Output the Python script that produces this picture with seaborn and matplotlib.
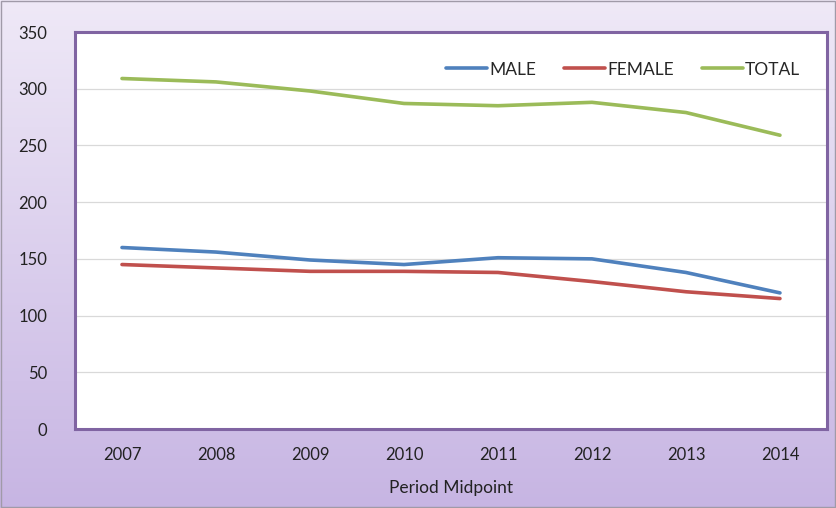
import numpy as np
import pandas as pd
import matplotlib
matplotlib.use("Agg")
import matplotlib.pyplot as plt
import seaborn as sns
from matplotlib.colors import LinearSegmentedColormap

years = [2007, 2008, 2009, 2010, 2011, 2012, 2013, 2014]
male = [160, 156, 149, 145, 151, 150, 138, 120]
female = [145, 142, 139, 139, 138, 130, 121, 115]
total = [309, 306, 298, 287, 285, 288, 279, 259]
series_names = ["MALE", "FEMALE", "TOTAL"]
colors = ["#4f81bd", "#c0504d", "#9bbb59"]

df = pd.DataFrame({"year": years * 3,
                   "value": male + female + total,
                   "series": [s for s in series_names for _ in years]})

sns.set_theme(style="white")
plt.rcParams['font.family'] = ['Lato', 'DejaVu Sans']

fig = plt.figure(figsize=(8.37, 5.08), dpi=100)

# gradient background, light at the top, darker lavender at the bottom
bg = fig.add_axes([0, 0, 1, 1], zorder=-10)
cmap = LinearSegmentedColormap.from_list("bg", ["#c7b5e3", "#efe9f7"])
bg.imshow(np.linspace(0, 1, 256).reshape(-1, 1), aspect="auto", cmap=cmap,
          extent=[0, 1, 0, 1])
bg.set_xlim(0, 1)
bg.set_ylim(1, 0)
bg.axis("off")
fig.patches.append(plt.Rectangle((0.001, 0.001), 0.997, 0.997, transform=fig.transFigure,
                                 fill=False, edgecolor="#a09aa8", linewidth=1))

ax = fig.add_axes([0.0896, 0.1555, 0.8984, 0.7815])
ax.set_facecolor("white")
sns.lineplot(data=df, x="year", y="value", hue="series", palette=colors,
             hue_order=series_names, linewidth=2.6, ax=ax)

ax.set_ylim(0, 350)
ax.set_yticks(range(0, 351, 50))
ax.set_xlim(2006.5, 2014.5)
ax.set_xticks(years)
ax.set_xticklabels([str(y) for y in years])
ax.yaxis.grid(True, color="#d9d9d9", linewidth=0.9)
ax.set_axisbelow(True)
for sp in ax.spines.values():
    sp.set_color("#8064a2")
    sp.set_linewidth(2.2)
ax.tick_params(axis="both", length=0, labelsize=12, colors="#222222")
ax.tick_params(axis="y", pad=20)
ax.tick_params(axis="x", pad=13)
ax.set_xlabel("Period Midpoint", fontsize=12.5, color="#222222", labelpad=12)
ax.set_ylabel("")

leg = ax.legend(loc="upper right", ncol=3, frameon=False, fontsize=12.5,
                handlelength=2.4, handletextpad=0.1, columnspacing=1.6,
                bbox_to_anchor=(0.985, 0.965))
for line in leg.get_lines():
    line.set_linewidth(2.6)

fig.savefig("out.png", dpi=100)
